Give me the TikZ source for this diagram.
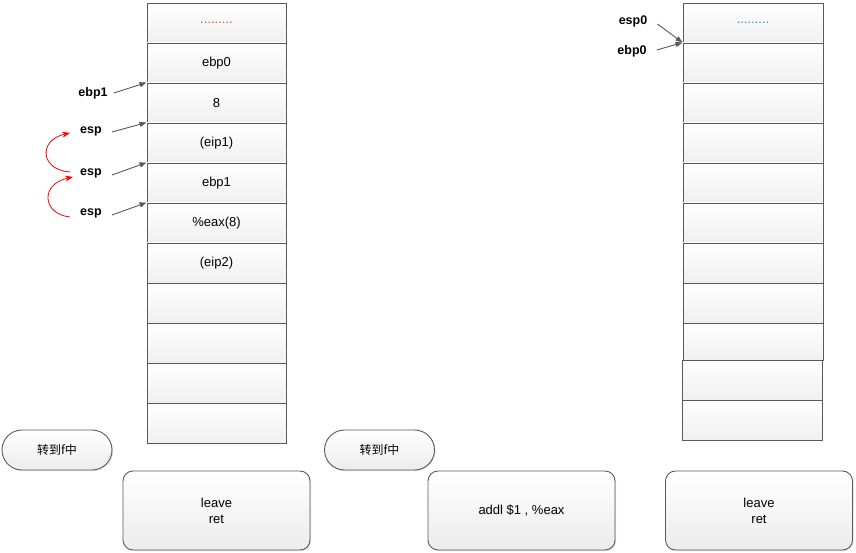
\documentclass[tikz,border=0pt]{standalone}
\usepackage{fontspec}
\setmainfont{Liberation Sans}
\newfontfamily\cjk{Noto Sans CJK SC}
\usetikzlibrary{arrows.meta,shadows}
\definecolor{edge}{HTML}{595959}
\definecolor{dotorange}{HTML}{A07020}
\definecolor{dotblue}{HTML}{2E8FD0}
\tikzset{
  cell/.style={draw=edge, line width=0.9pt, top color=white, bottom color=gray!12,
    minimum width=139pt, minimum height=40pt, inner sep=0pt,
    font=\fontsize{13}{15}\selectfont},
  lbl/.style={font=\fontsize{12.5}{14}\selectfont\bfseries, inner xsep=10pt, inner ysep=1pt},
  ptr/.style={draw=edge, line width=0.9pt, -{Triangle[length=7pt,width=5pt]}},
  move/.style={draw=red, line width=0.8pt, -{Stealth[length=8pt,width=6pt]}},
  pill/.style={draw=edge, line width=0.9pt, top color=white, bottom color=gray!15,
    rounded corners=20pt, minimum width=110pt, minimum height=40pt,
    font=\fontsize{12}{14}\selectfont\cjk,
    drop shadow={shadow xshift=1pt, shadow yshift=-1pt, opacity=0.25}},
  codebox/.style={draw=edge, line width=0.9pt, top color=white, bottom color=gray!15,
    rounded corners=10pt, minimum width=187pt, minimum height=79pt, align=center,
    font=\fontsize{13}{16}\selectfont,
    drop shadow={shadow xshift=1pt, shadow yshift=-1pt, opacity=0.25}}
}
\begin{document}
\begin{tikzpicture}[x=1pt,y=-1pt]
\useasboundingbox (0,0) rectangle (856,553);
% left stack
\node[cell] (L1) at (216.5,23) {\textcolor{dotorange}{.........}};
\node[cell] (L2) at (216.5,63) {ebp0};
\node[cell] (L3) at (216.5,103) {8};
\node[cell] (L4) at (216.5,143) {(eip1)};
\node[cell] (L5) at (216.5,183) {ebp1};
\node[cell] (L6) at (216.5,223) {\%eax(8)};
\node[cell] (L7) at (216.5,263) {(eip2)};
\node[cell] (L8) at (216.5,303) {};
\node[cell] (L9) at (216.5,343) {};
\node[cell] (L10) at (216.5,383) {};
\node[cell] (L11) at (216.5,423) {};
% right stack
\node[cell, minimum width=140pt] (R1) at (753,23) {\textcolor{dotblue}{.........}};
\node[cell, minimum width=140pt] (R2) at (753,63) {};
\node[cell, minimum width=140pt] (R3) at (753,103) {};
\node[cell, minimum width=140pt] (R4) at (753,143) {};
\node[cell, minimum width=140pt] (R5) at (753,183) {};
\node[cell, minimum width=140pt] (R6) at (753,223) {};
\node[cell, minimum width=140pt] (R7) at (753,263) {};
\node[cell, minimum width=140pt] (R8) at (753,303) {};
\node[cell, minimum width=140pt, minimum height=37pt] (R9) at (753,341.5) {};
\node[cell, minimum width=140pt] (R10) at (752,380) {};
\node[cell, minimum width=140pt] (R11) at (752,420) {};
% left labels
\node[lbl, inner xsep=6pt] (ebp1) at (93,93) {ebp1};
\node[lbl] (e1) at (91,131) {esp};
\node[lbl] (e2) at (91,173) {esp};
\node[lbl] (e3) at (91,213) {esp};
\draw[ptr] (ebp1.east) -- (L3.north west);
\draw[ptr] ([yshift=-1pt]e1.east) -- (L4.north west);
\draw[ptr] ([yshift=-2pt]e2.east) -- (L5.north west);
\draw[ptr] ([yshift=-2pt]e3.east) -- (L6.north west);
\draw[move] ([yshift=-4pt]e3.west) .. controls (42,214) and (40,184) .. ([xshift=3pt,yshift=-4pt]e2.west);
\draw[move] ([yshift=1pt]e2.west) .. controls (40,170) and (38,140) .. ([yshift=-2pt]e1.west);
% right labels
\node[lbl] (esp0) at (633,21) {esp0};
\node[lbl] (ebp0) at (632,51) {ebp0};
\draw[ptr] ([yshift=-3pt]esp0.east) -- (R2.north west);
\draw[ptr] ([yshift=1pt]ebp0.east) -- (R2.north west);
% pills
\node[pill] (p1) at (57,450) {转到f中};
\node[pill] (p2) at (379.5,450) {转到f中};
% code boxes
\node[codebox] (b1) at (216.5,510.5) {leave\\ret};
\node[codebox] (b2) at (521.5,510.5) {addl \$1 , \%eax};
\node[codebox] (b3) at (759,510.5) {leave\\ret};
\end{tikzpicture}
\end{document}
